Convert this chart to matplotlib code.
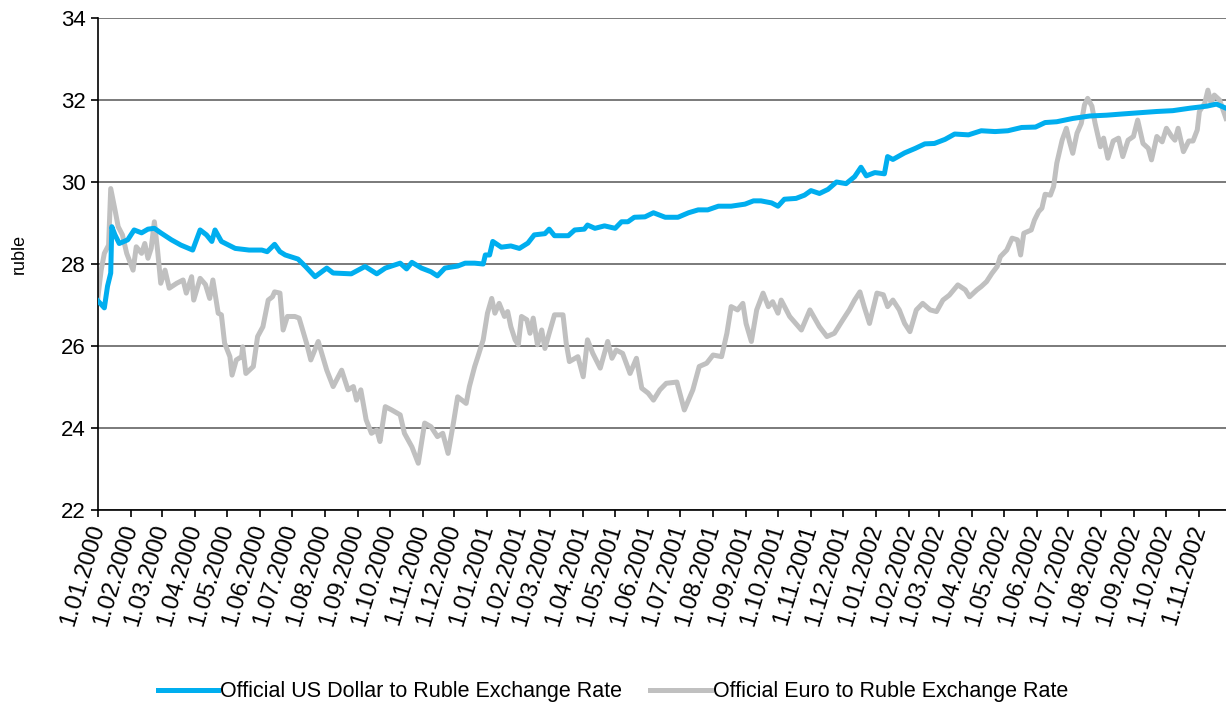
import matplotlib.pyplot as plt
import matplotlib.dates as mdates
import pandas as pd

plt.rcParams['font.family'] = ['Liberation Sans', 'DejaVu Sans']

# official US dollar rate (ruble per dollar)
usd_dates = [
    '2000-01-01', '2000-01-07', '2000-01-10', '2000-01-13', '2000-01-14', '2000-01-17',
    '2000-01-21', '2000-01-29', '2000-02-04', '2000-02-11', '2000-02-17', '2000-02-23',
    '2000-02-29', '2000-03-10', '2000-03-19', '2000-03-30', '2000-04-06', '2000-04-12',
    '2000-04-17', '2000-04-20', '2000-04-26', '2000-05-09', '2000-05-22', '2000-06-03',
    '2000-06-08', '2000-06-15', '2000-06-20', '2000-06-25', '2000-07-07', '2000-07-14',
    '2000-07-23', '2000-08-03', '2000-08-09', '2000-08-26', '2000-09-08', '2000-09-19',
    '2000-09-27', '2000-10-11', '2000-10-17', '2000-10-22', '2000-10-31', '2000-11-09',
    '2000-11-15', '2000-11-22', '2000-12-04', '2000-12-11', '2000-12-20', '2000-12-28',
    '2000-12-30', '2001-01-03', '2001-01-06', '2001-01-14', '2001-01-23', '2001-01-31',
    '2001-02-08', '2001-02-14', '2001-02-24', '2001-02-28', '2001-03-05', '2001-03-18',
    '2001-03-24', '2001-04-02', '2001-04-05', '2001-04-12', '2001-04-21', '2001-05-01',
    '2001-05-07', '2001-05-13', '2001-05-19', '2001-05-29', '2001-06-06', '2001-06-17',
    '2001-06-29', '2001-07-09', '2001-07-18', '2001-07-27', '2001-08-06', '2001-08-18',
    '2001-08-31', '2001-09-08', '2001-09-15', '2001-09-25', '2001-10-01', '2001-10-07',
    '2001-10-18', '2001-10-26', '2001-11-01', '2001-11-09', '2001-11-17', '2001-11-25',
    '2001-12-04', '2001-12-12', '2001-12-18', '2001-12-23', '2001-12-31', '2002-01-09',
    '2002-01-12', '2002-01-17', '2002-01-28', '2002-02-07', '2002-02-16', '2002-02-25',
    '2002-03-07', '2002-03-16', '2002-03-29', '2002-04-10', '2002-04-23', '2002-05-05',
    '2002-05-18', '2002-05-31', '2002-06-09', '2002-06-20', '2002-07-05', '2002-07-21',
    '2002-08-06', '2002-08-21', '2002-09-06', '2002-09-22', '2002-10-07', '2002-10-23',
    '2002-11-08', '2002-11-17', '2002-11-26',
]
usd_rate = [
    27.10, 26.93, 27.46, 27.78, 28.91, 28.71,
    28.50, 28.59, 28.83, 28.76, 28.85, 28.87,
    28.76, 28.59, 28.46, 28.34, 28.83, 28.71,
    28.55, 28.83, 28.55, 28.38, 28.34, 28.34,
    28.30, 28.48, 28.30, 28.22, 28.12, 27.94,
    27.69, 27.90, 27.78, 27.76, 27.94, 27.76,
    27.90, 28.02, 27.88, 28.04, 27.90, 27.81,
    27.71, 27.90, 27.95, 28.02, 28.02, 28.00,
    28.22, 28.22, 28.55, 28.41, 28.44, 28.38,
    28.51, 28.71, 28.74, 28.85, 28.69, 28.69,
    28.83, 28.85, 28.95, 28.87, 28.93, 28.87,
    29.03, 29.03, 29.14, 29.15, 29.25, 29.14,
    29.14, 29.25, 29.32, 29.32, 29.41, 29.41,
    29.46, 29.54, 29.54, 29.49, 29.41, 29.58,
    29.60, 29.68, 29.79, 29.72, 29.82, 30.00,
    29.96, 30.13, 30.36, 30.15, 30.23, 30.20,
    30.62, 30.55, 30.71, 30.82, 30.93, 30.94,
    31.04, 31.17, 31.15, 31.25, 31.23, 31.25,
    31.33, 31.34, 31.45, 31.47, 31.55, 31.61,
    31.63, 31.66, 31.69, 31.72, 31.74, 31.80,
    31.85, 31.90, 31.80,
]

# official euro rate (ruble per euro)
eur_dates = [
    '2000-01-01', '2000-01-04', '2000-01-07', '2000-01-11', '2000-01-13', '2000-01-17',
    '2000-01-20', '2000-01-24', '2000-01-28', '2000-02-03', '2000-02-06', '2000-02-11',
    '2000-02-14', '2000-02-17', '2000-02-20', '2000-02-23', '2000-02-26', '2000-02-29',
    '2000-03-04', '2000-03-08', '2000-03-15', '2000-03-21', '2000-03-24', '2000-03-29',
    '2000-03-31', '2000-04-06', '2000-04-11', '2000-04-15', '2000-04-18', '2000-04-23',
    '2000-04-26', '2000-04-29', '2000-05-04', '2000-05-06', '2000-05-10', '2000-05-15',
    '2000-05-16', '2000-05-19', '2000-05-26', '2000-05-30', '2000-06-04', '2000-06-09',
    '2000-06-13', '2000-06-15', '2000-06-20', '2000-06-23', '2000-06-27', '2000-07-04',
    '2000-07-08', '2000-07-15', '2000-07-19', '2000-07-26', '2000-08-03', '2000-08-09',
    '2000-08-17', '2000-08-23', '2000-08-28', '2000-08-31', '2000-09-04', '2000-09-09',
    '2000-09-14', '2000-09-19', '2000-09-22', '2000-09-27', '2000-10-03', '2000-10-11',
    '2000-10-15', '2000-10-22', '2000-10-28', '2000-11-03', '2000-11-09', '2000-11-15',
    '2000-11-20', '2000-11-25', '2000-11-30', '2000-12-04', '2000-12-12', '2000-12-15',
    '2000-12-20', '2000-12-23', '2000-12-28', '2001-01-01', '2001-01-05', '2001-01-08',
    '2001-01-12', '2001-01-17', '2001-01-20', '2001-01-23', '2001-01-27', '2001-01-30',
    '2001-02-02', '2001-02-07', '2001-02-10', '2001-02-13', '2001-02-17', '2001-02-21',
    '2001-02-24', '2001-02-28', '2001-03-05', '2001-03-13', '2001-03-16', '2001-03-19',
    '2001-03-27', '2001-04-01', '2001-04-05', '2001-04-10', '2001-04-17', '2001-04-24',
    '2001-04-28', '2001-05-02', '2001-05-08', '2001-05-15', '2001-05-21', '2001-05-26',
    '2001-06-01', '2001-06-06', '2001-06-12', '2001-06-18', '2001-06-28', '2001-07-05',
    '2001-07-13', '2001-07-19', '2001-07-26', '2001-08-01', '2001-08-09', '2001-08-14',
    '2001-08-18', '2001-08-24', '2001-08-29', '2001-09-01', '2001-09-06', '2001-09-11',
    '2001-09-17', '2001-09-22', '2001-09-26', '2001-10-01', '2001-10-04', '2001-10-12',
    '2001-10-23', '2001-10-31', '2001-11-09', '2001-11-16', '2001-11-23', '2001-12-01',
    '2001-12-07', '2001-12-12', '2001-12-17', '2001-12-21', '2001-12-26', '2002-01-02',
    '2002-01-08', '2002-01-12', '2002-01-17', '2002-01-23', '2002-01-28', '2002-02-02',
    '2002-02-08', '2002-02-14', '2002-02-21', '2002-02-27', '2002-03-05', '2002-03-11',
    '2002-03-19', '2002-03-26', '2002-03-30', '2002-04-06', '2002-04-10', '2002-04-15',
    '2002-04-20', '2002-04-25', '2002-04-28', '2002-05-04', '2002-05-09', '2002-05-14',
    '2002-05-17', '2002-05-20', '2002-05-27', '2002-05-30', '2002-06-03', '2002-06-06',
    '2002-06-09', '2002-06-14', '2002-06-17', '2002-06-20', '2002-06-25', '2002-06-29',
    '2002-07-02', '2002-07-05', '2002-07-09', '2002-07-13', '2002-07-16', '2002-07-19',
    '2002-07-23', '2002-07-26', '2002-07-31', '2002-08-03', '2002-08-07', '2002-08-12',
    '2002-08-17', '2002-08-21', '2002-08-26', '2002-08-31', '2002-09-04', '2002-09-09',
    '2002-09-14', '2002-09-17', '2002-09-22', '2002-09-27', '2002-10-01', '2002-10-06',
    '2002-10-09', '2002-10-12', '2002-10-17', '2002-10-22', '2002-10-26', '2002-10-30',
    '2002-11-01', '2002-11-06', '2002-11-09', '2002-11-12', '2002-11-15', '2002-11-20',
    '2002-11-26',
]
eur_rate = [
    27.20, 27.85, 28.26, 28.46, 29.84, 29.32,
    28.91, 28.71, 28.26, 27.85, 28.42, 28.26,
    28.50, 28.14, 28.38, 29.03, 28.34, 27.53,
    27.85, 27.41, 27.53, 27.61, 27.29, 27.69,
    27.12, 27.65, 27.50, 27.16, 27.61, 26.80,
    26.76, 26.07, 25.74, 25.29, 25.66, 25.74,
    25.98, 25.33, 25.50, 26.23, 26.47, 27.12,
    27.20, 27.32, 27.29, 26.39, 26.72, 26.72,
    26.68, 26.07, 25.66, 26.11, 25.41, 25.01,
    25.41, 24.93, 25.01, 24.68, 24.93, 24.20,
    23.87, 23.95, 23.67, 24.52, 24.44, 24.32,
    23.87, 23.54, 23.14, 24.12, 24.03, 23.79,
    23.87, 23.38, 24.12, 24.76, 24.60, 25.01,
    25.50, 25.74, 26.15, 26.80, 27.16, 26.80,
    27.04, 26.72, 26.84, 26.47, 26.15, 26.03,
    26.72, 26.64, 26.31, 26.68, 26.03, 26.39,
    25.94, 26.31, 26.76, 26.76, 26.07, 25.62,
    25.74, 25.25, 26.15, 25.82, 25.46, 26.11,
    25.70, 25.90, 25.82, 25.33, 25.70, 24.97,
    24.85, 24.68, 24.93, 25.09, 25.12, 24.44,
    24.93, 25.50, 25.58, 25.78, 25.74, 26.31,
    26.96, 26.88, 27.04, 26.55, 26.11, 26.88,
    27.29, 26.96, 27.08, 26.80, 27.12, 26.72,
    26.39, 26.88, 26.47, 26.23, 26.31, 26.64,
    26.88, 27.12, 27.32, 26.96, 26.55, 27.29,
    27.25, 26.96, 27.12, 26.88, 26.55, 26.35,
    26.88, 27.04, 26.88, 26.84, 27.12, 27.24,
    27.49, 27.37, 27.20, 27.37, 27.45, 27.57,
    27.77, 27.94, 28.18, 28.34, 28.63, 28.59,
    28.22, 28.75, 28.83, 29.07, 29.28, 29.36,
    29.70, 29.68, 29.89, 30.46, 31.02, 31.31,
    30.98, 30.70, 31.19, 31.43, 31.88, 32.04,
    31.85, 31.43, 30.86, 31.07, 30.58, 31.00,
    31.07, 30.62, 31.02, 31.11, 31.51, 30.94,
    30.82, 30.54, 31.11, 30.98, 31.31, 31.11,
    31.02, 31.31, 30.74, 31.00, 31.00, 31.27,
    31.72, 31.92, 32.24, 31.92, 32.12, 32.00,
    31.55,
]

y_ticks = [22, 24, 26, 28, 30, 32, 34]

fig = plt.figure(figsize=(12.26, 7.09), dpi=100)
ax = fig.add_axes([0.0799, 0.2807, 0.9201, 0.6939])

ax.plot(pd.to_datetime(usd_dates), usd_rate, color='#00AEEF', lw=3.6,
        label='Official US Dollar to Ruble Exchange Rate', zorder=3)
ax.plot(pd.to_datetime(eur_dates), eur_rate, color='#C0C0C0', lw=3.6,
        label='Official Euro to Ruble Exchange Rate', zorder=2)

ax.set_ylim(22, 34)
ax.set_yticks(y_ticks)
ax.set_xlim(pd.Timestamp('2000-01-01'), pd.Timestamp('2002-11-26'))
ax.yaxis.grid(True, color='#707070', lw=1.3)
ax.set_axisbelow(True)

ax.xaxis.set_major_locator(mdates.MonthLocator())
ax.xaxis.set_major_formatter(plt.FuncFormatter(
    lambda v, pos: '{0}.{1:02d}.{2}'.format(mdates.num2date(v).day,
                                            mdates.num2date(v).month,
                                            mdates.num2date(v).year)))
for lbl in ax.get_xticklabels():
    lbl.set_rotation(73)
    lbl.set_rotation_mode('anchor')
    lbl.set_ha('right')
    lbl.set_va('center')

ax.tick_params(axis='y', labelsize=16, length=5, width=1.2, color='black', pad=4)
ax.tick_params(axis='x', labelsize=17, length=5, width=1.2, color='black', pad=6)

for side in ['top', 'right']:
    ax.spines[side].set_visible(False)
for side in ['left', 'bottom']:
    ax.spines[side].set_color('black')
    ax.spines[side].set_linewidth(1.2)

ax.set_ylabel('ruble', fontsize=13)
ax.yaxis.set_label_coords(-0.062, 0.52)

fig.legend(loc='center', bbox_to_anchor=(0.5, 0.024), ncol=2, frameon=False,
           fontsize=15.5, handlelength=2.8, handletextpad=0.1, columnspacing=1.3)

fig.savefig('out.png', dpi=100)
